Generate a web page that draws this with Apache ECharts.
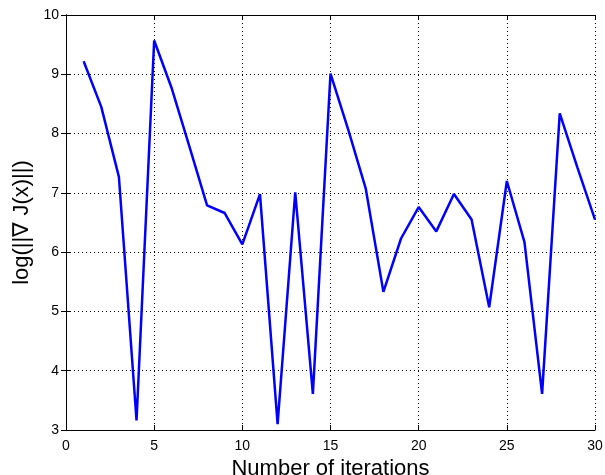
<!DOCTYPE html>
<html>
<head>
<meta charset="utf-8">
<script src="https://cdn.jsdelivr.net/npm/echarts@6/dist/echarts.min.js"></script>
<style>
    html, body { margin: 0; padding: 0; background: #fff; }
    #chart { width: 605px; height: 475px; }
</style>
</head>
<body>
<div id="chart"></div>
<script>
// iterations and log gradient norm
const iterations = [1, 2, 3, 4, 5, 6, 7, 8, 9, 10, 11, 12, 13, 14, 15,
    16, 17, 18, 19, 20, 21, 22, 23, 24, 25, 26, 27, 28, 29, 30];
const logGrad = [9.22, 8.45, 7.27, 3.16, 9.57, 8.76, 7.78, 6.79, 6.66, 6.13,
    6.98, 3.10, 7.01, 3.61, 9.01, 8.07, 7.07, 5.33, 6.23, 6.76,
    6.35, 6.98, 6.55, 5.07, 7.20, 6.17, 3.61, 8.34, 7.43, 6.55];

const xTicks = [0, 5, 10, 15, 20, 25, 30];
const yTicks = [3, 4, 5, 6, 7, 8, 9, 10];

document.addEventListener('DOMContentLoaded', function() {
    const chart = echarts.init(document.getElementById('chart'));
    const font = 'Liberation Sans, Arial, sans-serif';

    const gridLine = {
        show: true,
        lineStyle: { color: '#000', type: [1, 3], width: 1 }
    };

    const option = {
        animation: false,
        grid: {
            left: 66, right: 10, top: 15, bottom: 45,
            show: false, containLabel: false, outerBoundsMode: 'none'
        },
        xAxis: [
            {
                type: 'value',
                min: xTicks[0],
                max: xTicks[xTicks.length - 1],
                interval: 5,
                name: 'Number of iterations',
                nameLocation: 'middle',
                nameGap: 20,
                nameTextStyle: { fontFamily: font, fontSize: 22, color: '#000' },
                axisLine: { show: true, onZero: false, lineStyle: { color: '#000', width: 1 } },
                axisTick: { inside: true, length: 5, lineStyle: { color: '#000' } },
                axisLabel: { fontFamily: font, fontSize: 14, color: '#000', margin: 9 },
                splitLine: gridLine
            },
            {
                type: 'value',
                position: 'top',
                min: xTicks[0],
                max: xTicks[xTicks.length - 1],
                interval: 5,
                axisLine: { show: true, lineStyle: { color: '#000', width: 1 } },
                axisTick: { inside: true, length: 5, lineStyle: { color: '#000' } },
                axisLabel: { show: false },
                splitLine: { show: false }
            }
        ],
        yAxis: [
            {
                type: 'value',
                min: yTicks[0],
                max: yTicks[yTicks.length - 1],
                interval: 1,
                name: 'log(||\u2207 J(x)||)',
                nameLocation: 'middle',
                nameGap: 33,
                nameRotate: 90,
                nameTextStyle: { fontFamily: font, fontSize: 22, color: '#000' },
                axisLine: { show: true, onZero: false, lineStyle: { color: '#000', width: 1 } },
                axisTick: { inside: true, length: 5, lineStyle: { color: '#000' } },
                axisLabel: { fontFamily: font, fontSize: 14, color: '#000', margin: 7 },
                splitLine: gridLine
            },
            {
                type: 'value',
                position: 'right',
                min: yTicks[0],
                max: yTicks[yTicks.length - 1],
                interval: 1,
                axisLine: { show: true, lineStyle: { color: '#000', width: 1 } },
                axisTick: { inside: true, length: 5, lineStyle: { color: '#000' } },
                axisLabel: { show: false },
                splitLine: { show: false }
            }
        ],
        series: [
            {
                type: 'line',
                data: iterations.map((x, i) => [x, logGrad[i]]),
                showSymbol: false,
                lineStyle: { color: '#0000ff', width: 2.5 },
                itemStyle: { color: '#0000ff' }
            }
        ]
    };

    chart.setOption(option);
});
</script>
</body>
</html>
